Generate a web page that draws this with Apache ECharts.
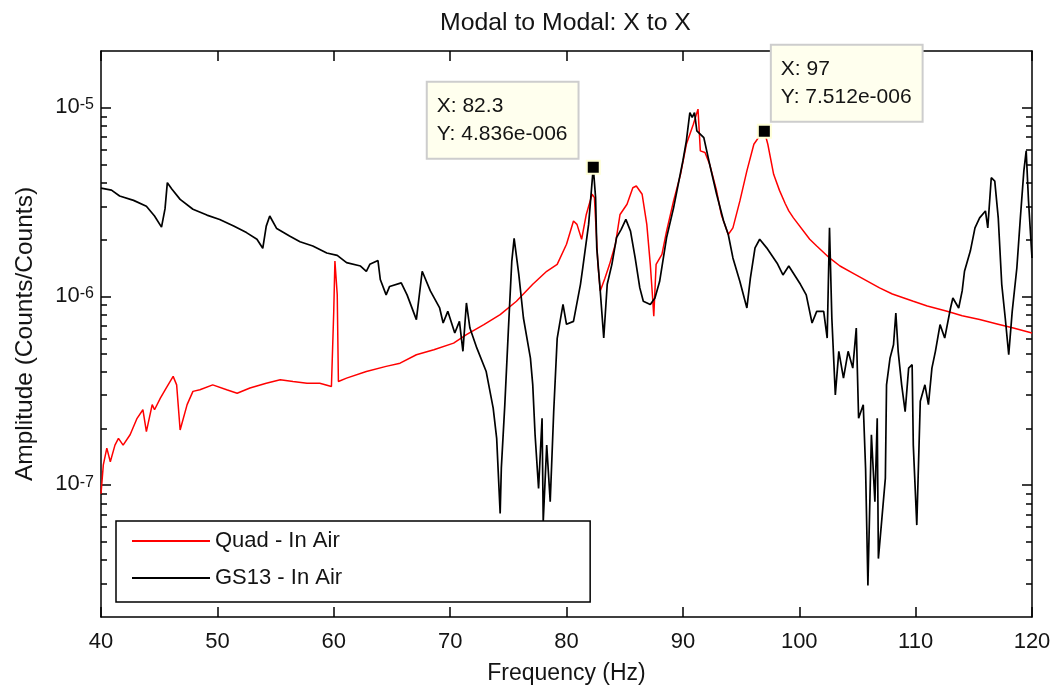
<!DOCTYPE html>
<html><head><meta charset="utf-8">
<script src="https://cdn.jsdelivr.net/npm/echarts@6/dist/echarts.min.js"></script>
<style>html,body{margin:0;padding:0;background:#fff}#c{width:1056px;height:688px}</style>
</head><body><div id="c"></div>
<script>
// ---- data (frequency in Hz, amplitude in Counts/Counts) ----
const quadFreq = [40.0,40.2,40.5,40.8,41.2,41.5,41.9,42.5,43.1,43.6,43.9,44.4,44.6,45.1,45.6,46.2,46.5,46.8,47.4,47.9,48.5,49.6,50.8,51.7,52.8,54.2,55.4,56.5,57.7,58.8,59.8,60.0,60.1,60.3,60.4,61.1,62.8,64.5,65.7,67.1,68.6,70.3,71.4,72.9,74.3,75.7,77.1,78.3,79.2,80.0,80.6,80.9,81.3,81.7,82.2,82.4,82.7,82.9,83.3,83.7,84.2,84.6,85.2,85.7,86.0,86.5,86.9,87.2,87.4,87.5,87.7,88.2,88.6,89.2,89.8,90.3,90.9,91.3,91.5,91.9,92.3,92.9,93.3,93.9,94.3,94.9,95.5,96.1,96.6,97.0,97.3,97.8,98.3,98.8,99.1,99.5,100.9,101.5,102.6,103.5,104.6,106.9,108.0,109.8,111.0,112.7,114.0,115.5,117.0,118.4,120.0];
const quadAmp = [9.0e-8,1.28e-7,1.57e-7,1.33e-7,1.63e-7,1.77e-7,1.63e-7,1.85e-7,2.26e-7,2.51e-7,1.92e-7,2.67e-7,2.51e-7,2.89e-7,3.27e-7,3.77e-7,3.40e-7,1.96e-7,2.67e-7,3.14e-7,3.20e-7,3.40e-7,3.20e-7,3.07e-7,3.27e-7,3.47e-7,3.62e-7,3.54e-7,3.47e-7,3.47e-7,3.33e-7,8.34e-7,1.54e-6,1.02e-6,3.54e-7,3.69e-7,4.00e-7,4.26e-7,4.43e-7,4.91e-7,5.22e-7,5.66e-7,6.28e-7,7.09e-7,8.01e-7,9.43e-7,1.16e-6,1.36e-6,1.48e-6,1.89e-6,2.51e-6,2.41e-6,2.01e-6,2.72e-6,3.48e-6,3.34e-6,1.48e-6,1.07e-6,1.25e-6,1.48e-6,1.89e-6,2.72e-6,3.08e-6,3.77e-6,3.85e-6,3.48e-6,2.41e-6,1.48e-6,9.82e-7,7.85e-7,1.48e-6,1.67e-6,2.22e-6,3.21e-6,4.44e-6,6.41e-6,8.19e-6,9.84e-6,5.91e-6,5.79e-6,5.02e-6,3.62e-6,2.72e-6,2.13e-6,2.31e-6,3.21e-6,4.63e-6,6.41e-6,7.10e-6,7.512e-6,6.41e-6,4.44e-6,3.65e-6,3.10e-6,2.84e-6,2.61e-6,2.01e-6,1.85e-6,1.60e-6,1.45e-6,1.33e-6,1.11e-6,1.03e-6,9.43e-7,8.9e-7,8.34e-7,7.9e-7,7.54e-7,7.15e-7,6.80e-7,6.40e-7];

const gsFreq = [40.0,40.9,41.6,42.8,43.9,44.6,45.2,45.5,45.7,46.1,46.8,47.9,49.1,50.2,51.4,52.5,53.4,53.9,54.2,54.5,55.1,56.2,57.1,58.2,59.4,60.3,61.1,62.3,62.8,63.1,63.8,64.0,64.5,64.8,65.8,66.3,67.1,67.6,68.3,69.1,69.4,69.8,70.4,70.8,71.1,71.4,71.7,72.3,73.1,73.7,74.0,74.3,74.4,74.7,75.0,75.3,75.5,75.9,76.3,76.9,77.1,77.3,77.6,77.9,78.0,78.3,78.6,78.9,79.2,79.4,79.7,80.0,80.6,81.2,81.4,81.9,82.3,82.5,82.6,82.9,83.2,83.5,83.9,84.3,84.7,85.1,85.5,85.9,86.3,86.6,87.2,87.6,88.0,88.6,89.2,89.6,90.0,90.3,90.6,90.8,91.0,91.2,91.8,92.3,92.9,93.5,93.9,94.3,94.9,95.5,95.8,96.2,96.6,97.2,98.1,98.6,99.1,100.1,100.6,101.1,101.5,102.1,102.4,102.6,102.8,103.1,103.4,103.8,104.2,104.6,104.9,105.1,105.5,105.7,105.9,106.2,106.5,106.7,106.8,107.1,107.4,107.5,107.8,108.1,108.3,108.5,108.8,109.1,109.4,109.7,109.8,110.1,110.4,110.8,111.1,111.4,111.7,112.1,112.5,113.0,113.2,113.7,114.0,114.2,114.7,115.1,115.5,116.0,116.2,116.5,116.8,117.1,117.4,117.7,118.0,118.3,118.7,119.0,119.3,119.5,119.7,120.0];
const gsAmp = [3.75e-6,3.66e-6,3.41e-6,3.23e-6,3.01e-6,2.67e-6,2.33e-6,2.91e-6,4.01e-6,3.70e-6,3.27e-6,2.90e-6,2.70e-6,2.56e-6,2.36e-6,2.18e-6,2.01e-6,1.80e-6,2.36e-6,2.67e-6,2.29e-6,2.09e-6,1.95e-6,1.85e-6,1.70e-6,1.65e-6,1.51e-6,1.45e-6,1.36e-6,1.48e-6,1.55e-6,1.23e-6,1.02e-6,1.13e-6,1.18e-6,1.02e-6,7.54e-7,1.36e-6,1.07e-6,8.69e-7,7.23e-7,8.34e-7,6.40e-7,7.38e-7,5.12e-7,9.24e-7,6.80e-7,5.32e-7,4.00e-7,2.56e-7,1.77e-7,7.08e-8,1.23e-7,2.67e-7,6.53e-7,1.54e-6,2.03e-6,1.31e-6,7.69e-7,4.71e-7,3.40e-7,1.85e-7,9.60e-8,2.26e-7,6.39e-8,1.63e-7,8.17e-8,2.45e-7,6.0e-7,7.1e-7,9.09e-7,7.12e-7,7.38e-7,1.16e-6,1.42e-6,2.41e-6,4.836e-6,3.34e-6,1.81e-6,1.07e-6,6.02e-7,1.16e-6,1.48e-6,2.05e-6,2.27e-6,2.56e-6,2.22e-6,1.60e-6,1.11e-6,9.43e-7,9.06e-7,9.82e-7,1.20e-6,2.05e-6,2.95e-6,3.93e-6,5.23e-6,6.68e-6,9.44e-6,8.9e-6,9.44e-6,7.55e-6,6.95e-6,5.02e-6,3.48e-6,2.51e-6,2.13e-6,1.60e-6,1.20e-6,8.69e-7,1.25e-6,1.81e-6,2.01e-6,1.81e-6,1.50e-6,1.30e-6,1.45e-6,1.16e-6,1.02e-6,7.23e-7,8.34e-7,8.34e-7,6.02e-7,2.31e-6,7.69e-7,3.01e-7,5.12e-7,3.69e-7,5.12e-7,4.17e-7,6.80e-7,2.26e-7,2.67e-7,1.23e-7,2.94e-8,1.85e-7,8.17e-8,2.26e-7,4.08e-8,6.65e-8,1.09e-7,3.40e-7,4.71e-7,5.55e-7,8.17e-7,5.12e-7,3.40e-7,2.45e-7,4.17e-7,4.35e-7,1.63e-7,6.14e-8,2.78e-7,3.40e-7,2.67e-7,4.17e-7,5.12e-7,7.09e-7,6.02e-7,8.69e-7,9.82e-7,8.69e-7,1.07e-6,1.36e-6,1.74e-6,2.31e-6,2.61e-6,2.84e-6,2.31e-6,4.26e-6,4.09e-6,2.61e-6,1.16e-6,7.69e-7,4.91e-7,8.34e-7,1.42e-6,2.61e-6,4.63e-6,5.91e-6,3.21e-6,1.60e-6];

// data tips
const tipFreq = [82.3, 97];
const tipAmp = [4.836e-6, 7.512e-6];

// axes
const xTicks = [40, 50, 60, 70, 80, 90, 100, 110, 120];
const yDecades = [-7, -6, -5];
const yLow = 2e-8, yHigh = 2e-5;

// ---- chart ----
const FF = '"Liberation Sans", Arial, Helvetica, sans-serif';
const TXT = '#141414';
const yMin = Math.log10(yLow), yMax = Math.log10(yHigh);
const minorVals = [];
for (let n = -8; n <= -5; n++) {
  for (let k = 2; k <= 9; k++) {
    const v = n + Math.log10(k);
    if (v > yMin + 1e-9 && v < yMax - 1e-9) minorVals.push(v);
  }
}
const AX = {color: '#000', width: 1.5};

function yAx(pos, vals, len, withLine, withLabel) {
  const a = {
    type: 'value', position: pos, offset: 0, min: yMin, max: yMax,
    axisLine: {show: withLine, lineStyle: AX},
    axisTick: {show: true, inside: true, length: len, customValues: vals, lineStyle: AX},
    axisLabel: {show: false},
    splitLine: {show: false}
  };
  if (withLabel) {
    a.axisLabel = {
      show: true, customValues: yDecades, margin: 7,
      formatter: v => '{b|10}{s|' + Math.round(v) + '}',
      rich: {
        b: {fontFamily: FF, fontSize: 22, lineHeight: 22, color: TXT, padding: [10, 0, 12, 0]},
        s: {fontFamily: FF, fontSize: 16, lineHeight: 16, color: TXT, verticalAlign: 'top'}
      }
    };
    a.name = 'Amplitude (Counts/Counts)';
    a.nameLocation = 'middle';
    a.nameGap = 63;
    a.nameRotate = 90;
    a.nameTextStyle = {fontFamily: FF, fontSize: 24.5, color: TXT};
  }
  return a;
}

function mexp(v) {
  return v.toExponential(3).replace(/e([+-])(\d+)/, (m, s, d) => 'e' + s + d.padStart(3, '0'));
}

function tip(i, pos) {
  return {
    symbol: 'rect', symbolSize: 13, animation: false,
    itemStyle: {color: '#000', borderColor: '#FFFFD6', borderWidth: 2},
    label: {
      show: true, position: pos, align: 'left', verticalAlign: 'bottom',
      formatter: () => 'X: ' + tipFreq[i] + '\nY: ' + mexp(tipAmp[i]),
      color: TXT, fontFamily: FF, fontSize: 21, lineHeight: 28,
      backgroundColor: '#FFFFEE', borderColor: '#CDCDCD', borderWidth: 2,
      padding: [9, 10, 10, 9]
    },
    data: [{coord: [tipFreq[i], Math.log10(tipAmp[i])]}]
  };
}

const chart = echarts.init(document.getElementById('c'), null, {renderer: 'canvas'});
chart.setOption({
  animation: false,
  backgroundColor: '#fff',
  title: {
    text: 'Modal to Modal: X to X', left: 440, top: 9, padding: 0,
    textStyle: {fontFamily: FF, fontSize: 24.8, fontWeight: 'normal', color: TXT, lineHeight: 28}
  },
  grid: {left: 101, right: 24, top: 51, bottom: 71, containLabel: false, outerBoundsMode: 'none'},
  legend: {
    orient: 'vertical', left: 116, top: 521, padding: [7, 248, 11, 15],
    itemWidth: 78, itemHeight: 14, itemGap: 11,
    itemStyle: {opacity: 0, color: 'transparent', borderWidth: 0},
    backgroundColor: '#fff', borderColor: '#000', borderWidth: 1.5, borderRadius: 0,
    textStyle: {fontFamily: FF, fontSize: 22, color: TXT, lineHeight: 26},
    data: ['Quad - In Air', 'GS13 - In Air'], selectedMode: false
  },
  xAxis: [
    {
      type: 'value', position: 'bottom', min: 40, max: 120, interval: 10,
      axisLine: {show: true, lineStyle: AX},
      axisTick: {show: true, inside: true, length: 10, lineStyle: AX},
      axisLabel: {show: true, customValues: xTicks, margin: 14, fontFamily: FF, fontSize: 22, color: TXT},
      splitLine: {show: false},
      name: 'Frequency (Hz)', nameLocation: 'middle', nameGap: 45,
      nameTextStyle: {fontFamily: FF, fontSize: 23, color: TXT}
    },
    {
      type: 'value', position: 'top', min: 40, max: 120, interval: 10,
      axisLine: {show: true, lineStyle: AX},
      axisTick: {show: true, inside: true, length: 10, lineStyle: AX},
      axisLabel: {show: false}, splitLine: {show: false}
    }
  ],
  yAxis: [
    yAx('left', yDecades, 10, true, true),
    yAx('left', minorVals, 6, false, false),
    yAx('right', yDecades, 10, true, false),
    yAx('right', minorVals, 6, false, false)
  ],
  series: [
    {
      name: 'Quad - In Air', type: 'line', xAxisIndex: 0, yAxisIndex: 0,
      data: quadFreq.map((f, i) => [f, Math.log10(quadAmp[i])]),
      symbol: 'none', showSymbol: false,
      lineStyle: {color: '#ff0000', width: 1.5}, itemStyle: {color: '#ff0000'},
      markPoint: tip(1, [15, -3])
    },
    {
      name: 'GS13 - In Air', type: 'line', xAxisIndex: 0, yAxisIndex: 0,
      data: gsFreq.map((f, i) => [f, Math.log10(gsAmp[i])]),
      symbol: 'none', showSymbol: false,
      lineStyle: {color: '#000000', width: 1.7}, itemStyle: {color: '#000000'},
      markPoint: tip(0, [-158, -2])
    }
  ]
});
</script>
</body></html>
